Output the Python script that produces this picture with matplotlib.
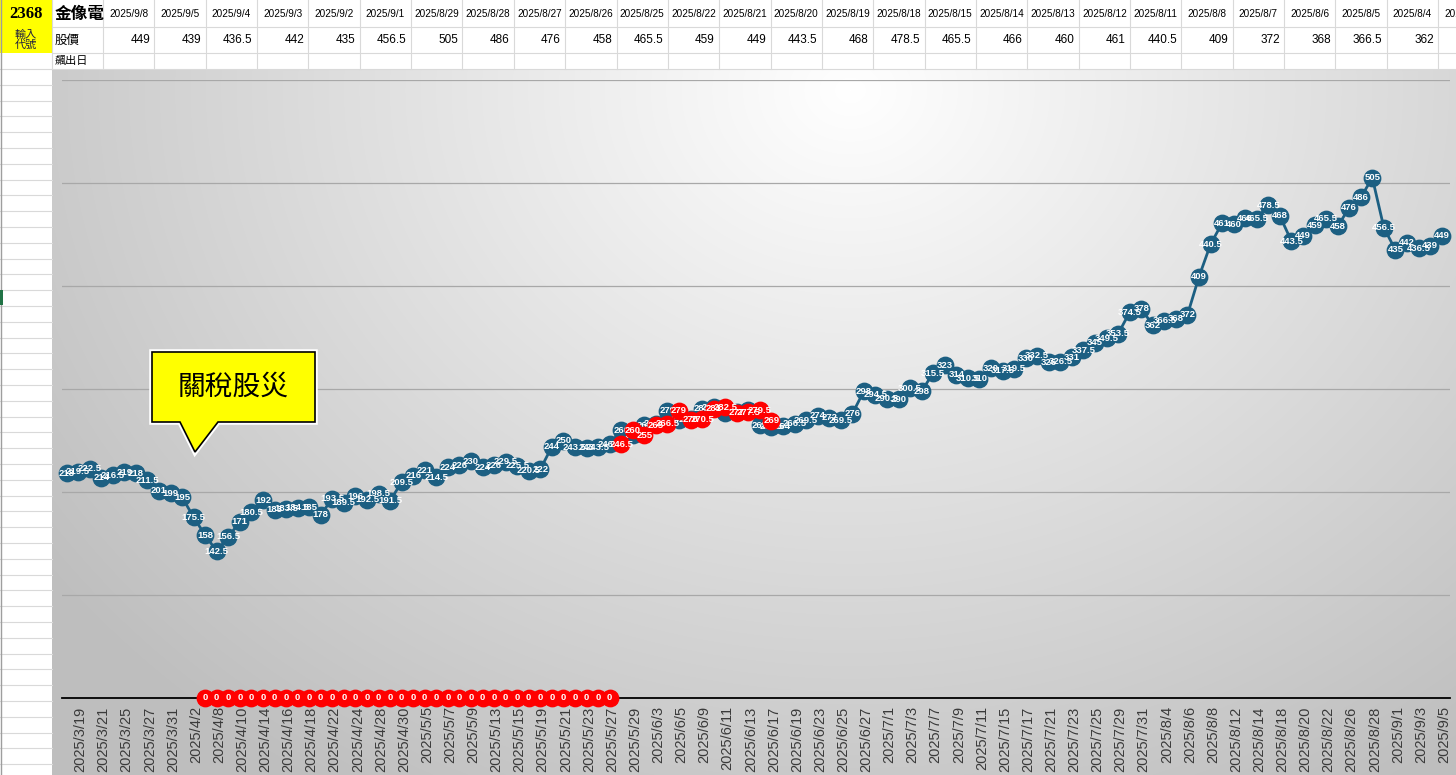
import numpy as np
import matplotlib.pyplot as plt
from matplotlib.patches import Polygon, Rectangle
from matplotlib.transforms import ScaledTranslation

plt.rcParams['font.family'] = ['Liberation Sans', 'Noto Sans CJK TC', 'DejaVu Sans']

# ----- DATA -----
stock_code = "2368"
stock_name = "金像電"

trade_days = {
    3: [19, 20, 21, 24, 25, 26, 27, 28, 31],
    4: [1, 2, 7, 8, 9, 10, 11, 14, 15, 16, 17, 18, 21, 22, 23, 24, 25, 28, 29, 30],
    5: [2, 5, 6, 7, 8, 9, 12, 13, 14, 15, 16, 19, 20, 21, 22, 23, 26, 27, 28, 29],
    6: [2, 3, 4, 5, 6, 9, 10, 11, 12, 13, 16, 17, 18, 19, 20, 23, 24, 25, 26, 27, 30],
    7: [1, 2, 3, 4, 7, 8, 9, 10, 11, 14, 15, 16, 17, 18, 21, 22, 23, 24, 25, 28, 29, 30, 31],
    8: [1, 4, 5, 6, 7, 8, 11, 12, 13, 14, 15, 18, 19, 20, 21, 22, 25, 26, 27, 28, 29],
    9: [1, 2, 3, 4, 5, 8],
}
dates = [f"2025/{m}/{d}" for m, days in trade_days.items() for d in days]

price = [218, 219.5, 222.5, 214, 216.5, 219, 218, 211.5, 201, 199,
         195, 175.5, 158, 142.5, 156.5, 171, 180.5, 192, 183, 183.5,
         184.5, 185, 178, 193.5, 189.5, 196, 192.5, 198.5, 191.5, 209.5,
         216, 221, 214.5, 224, 226, 230, 224, 226, 229.5, 225.5,
         220.5, 222, 244, 250, 243.5, 243, 243.5, 246.5, 260, 255,
         265, 266.5, 279, 270, 270.5, 281, 282.5, 277, 277.5, 279.5,
         265, 263.5, 264, 266.5, 269.5, 274, 272, 269.5, 276, 298,
         294.5, 290.5, 290, 300.5, 298, 315.5, 323, 314, 310.5, 310,
         320, 317.5, 319.5, 330, 332.5, 326, 326.5, 331, 337.5, 345,
         349.5, 353.5, 374.5, 378, 362, 366.5, 368, 372, 409, 440.5,
         461, 460, 466, 465.5, 478.5, 468, 443.5, 449, 459, 465.5,
         458, 476, 486, 505, 456.5, 435, 442, 436.5, 439, 449]

# red series: zeros during the tariff crash, then highlighted prices
zero_start = 12
zero_vals = [0] * 36
hot_start = 48
hot_vals = [246.5, 260, 255, 265, 266.5, 279, 270, 270.5, 281, 282.5,
            277, 277.5, 279.5, 269]

table_cols = 26
callout_text = "關稅股災"

BLUE = "#1c5f82"
RED = "#ff0000"
MS = 11.8

fig = plt.figure(figsize=(14.56, 7.75), dpi=100)

# ----- SPREADSHEET BACKGROUND (pixel coords) -----
bg = fig.add_axes([0, 0, 1, 1])
bg.set_xlim(0, 1456)
bg.set_ylim(775, 0)
bg.axis('off')

# chart area radial gradient
W, H = 1404, 705
gx, gy = np.meshgrid(np.arange(W) + 52, np.arange(H) + 70)
d = np.sqrt(((gx - 850) / 900.0) ** 2 + ((gy - 90) / 750.0) ** 2)
shade = 1 - 0.23 * np.clip(d, 0, 1.1)
bg.imshow(np.dstack([shade] * 3), extent=(52, 1456, 775, 70), aspect='auto',
          interpolation='bilinear', zorder=0)

grid_c = "#d9d9d9"
bg.add_patch(Rectangle((0, 0), 52, 53, facecolor="#ffff00", edgecolor='none', zorder=1))
for y in [27, 53, 69]:
    bg.plot([52, 1456], [y, y], color=grid_c, lw=0.8, zorder=1)
for y in np.arange(69, 776, 15.8):
    bg.plot([0, 52], [y, y], color=grid_c, lw=0.8, zorder=1)
col_edges = [52] + [103 + 51.35 * k for k in range(table_cols + 1)]
for x in col_edges:
    bg.plot([x, x], [0, 69], color=grid_c, lw=0.8, zorder=1)
bg.plot([1, 1], [0, 775], color="#9e9e9e", lw=1, zorder=2)
bg.add_patch(Rectangle((0, 290), 2.5, 15, facecolor="#217346", edgecolor='none', zorder=3))

bg.text(26, 14, stock_code, ha='center', va='center', fontsize=12, fontweight='bold',
        family=['Liberation Serif', 'DejaVu Serif'], zorder=3)
bg.text(26, 40, "輸入\n代號", ha='center', va='center', fontsize=8, linespacing=1.0,
        family=['Noto Sans CJK TC'], color="#1f1f3f", zorder=3)
bg.text(55, 14, stock_name, ha='left', va='center', fontsize=12, fontweight='bold',
        family=['Noto Sans CJK TC'], zorder=3)
bg.text(55, 40, "股價", ha='left', va='center', fontsize=9, family=['Noto Sans CJK TC'], zorder=3)
bg.text(55, 61, "飆出日", ha='left', va='center', fontsize=8, family=['Noto Sans CJK TC'], zorder=3)

for k in range(table_cols + 1):
    i = len(dates) - 1 - k
    left = 103 + 51.35 * k
    bg.text(left + 25.7, 14, dates[i], ha='center', va='center', fontsize=7.2, zorder=3)
    if k < table_cols:
        bg.text(left + 47, 40, f"{price[i]:g}", ha='right', va='center', fontsize=8.5, zorder=3)

# ----- LINE CHART -----
ax = fig.add_axes([62 / 1456, 77 / 775, 1388 / 1456, 618 / 775])
ax.patch.set_alpha(0)
n = len(price)
x = np.arange(n)
ax.set_xlim(-0.39, 119.72)
ax.set_ylim(0, 600)
ax.set_yticks(range(0, 601, 100))
ax.yaxis.grid(True, color="#a8a8a8", lw=0.9)
ax.set_axisbelow(True)
ax.tick_params(axis='y', length=0, labelleft=False)
for s in ['top', 'right', 'left']:
    ax.spines[s].set_visible(False)
ax.spines['bottom'].set_color('black')
ax.spines['bottom'].set_linewidth(1.3)

ax.set_xticks(x[::2])
ax.set_xticklabels(dates[::2], rotation=90, fontsize=10.5, color="#3a3a3a")
ax.tick_params(axis='x', length=0, pad=6)
shift = ScaledTranslation(0.14, 0, fig.dpi_scale_trans)
for lab in ax.get_xticklabels():
    lab.set_transform(lab.get_transform() + shift)

ax.plot(x, price, color=BLUE, lw=2.0, marker='o', ms=MS, mfc=BLUE, mec=BLUE,
        zorder=3, clip_on=False)
for i, v in enumerate(price):
    ax.text(i, v, f"{v:g}", ha='center', va='center', color='white', fontsize=6.8,
            fontweight='bold', zorder=4)

zx = np.arange(zero_start, zero_start + len(zero_vals))
hx = np.arange(hot_start, hot_start + len(hot_vals))
for xs, vals in [(zx, zero_vals), (hx, hot_vals)]:
    ax.plot(xs, vals, ls='none', marker='o', ms=MS, mfc=RED, mec=RED, zorder=5, clip_on=False)
    for i, v in zip(xs, vals):
        ax.text(i, v, f"{v:g}", ha='center', va='center', color='white', fontsize=6.8,
                fontweight='bold', zorder=6, clip_on=False)

# ----- CALLOUT -----
ov = fig.add_axes([0, 0, 1, 1], zorder=10)
ov.set_xlim(0, 1456)
ov.set_ylim(775, 0)
ov.axis('off')
ov.patch.set_alpha(0)
pts = [(152, 352), (315, 352), (315, 422), (218, 422), (195, 452), (180, 422), (152, 422)]
ov.add_patch(Polygon(pts, closed=True, facecolor='none', edgecolor='white', lw=4, joinstyle='miter'))
ov.add_patch(Polygon(pts, closed=True, facecolor='#ffff00', edgecolor='black', lw=1.2, joinstyle='miter'))
ov.text(233.5, 387, callout_text, ha='center', va='center', fontsize=20,
        family=['Noto Sans CJK TC'], color='black')

fig.savefig("out.png", dpi=100)
